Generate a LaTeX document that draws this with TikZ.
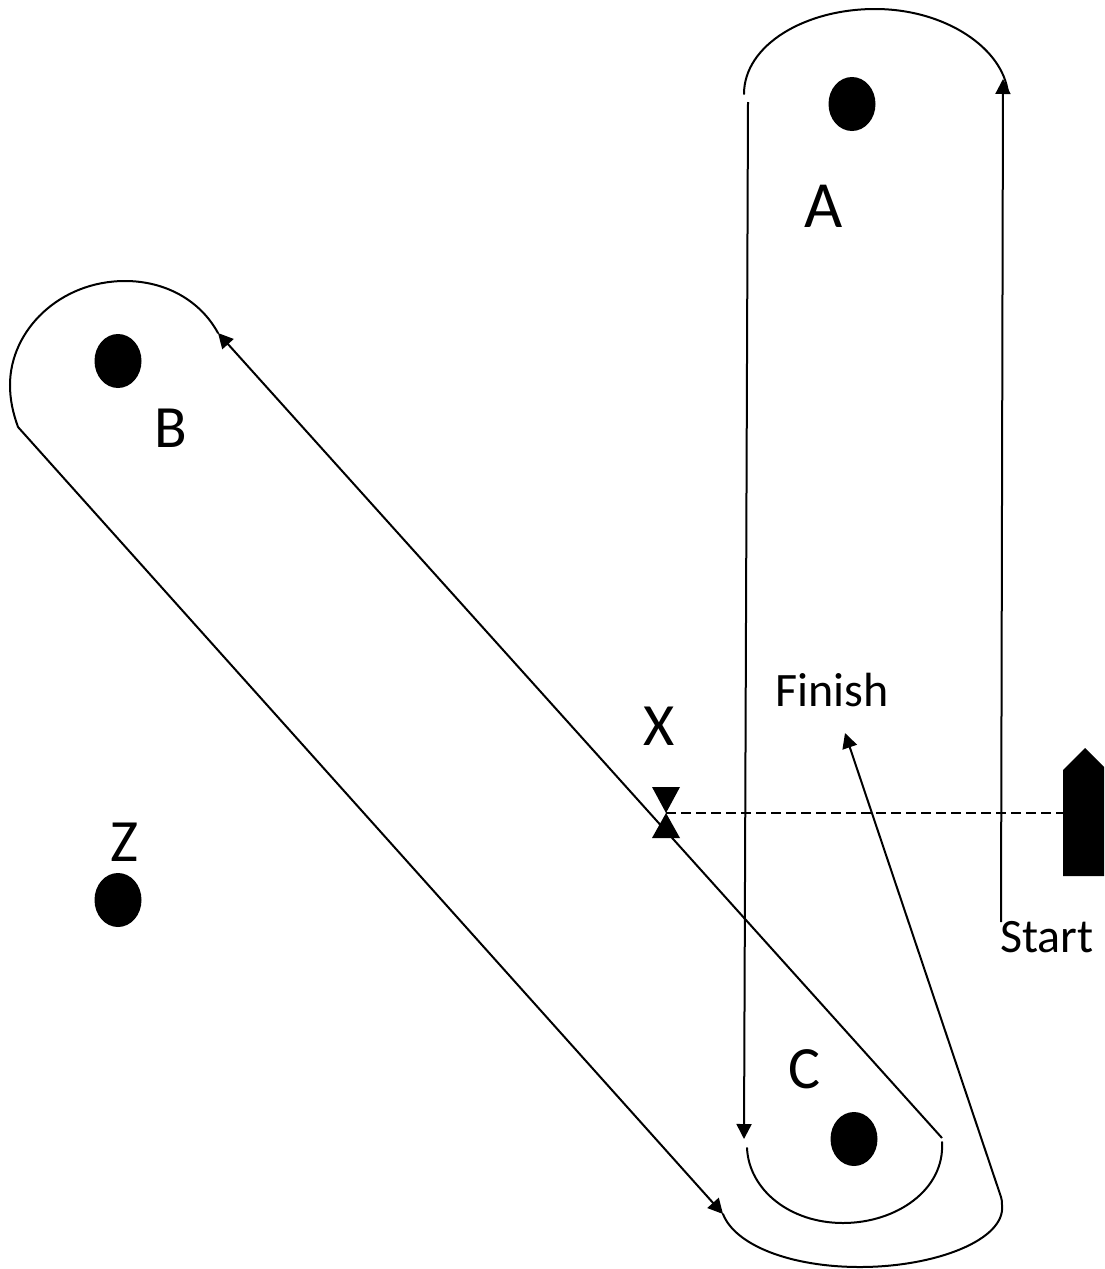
\documentclass[tikz,border=0pt]{standalone}
\usepackage{fontspec}
\setmainfont{Carlito}
\usetikzlibrary{arrows.meta,shapes.geometric}
\tikzset{
  dot/.style={ellipse,fill=black,draw=none,minimum width=47pt,minimum height=54pt,inner sep=0pt},
  biglabel/.style={font=\fontsize{66}{66}\selectfont,inner sep=0pt},
  letterlabel/.style={font=\fontsize{60}{60}\selectfont,inner sep=0pt},
  midlabel/.style={font=\fontsize{48}{48}\selectfont,inner sep=0pt},
  path line/.style={line width=2pt,black},
  arrowed/.style={path line,-{Triangle[length=15pt,width=15pt]}},
  curve/.style={line width=2pt,black,line cap=round},
  sight/.style={line width=2pt,dash pattern=on 10pt off 5pt,black},
  solidmark/.style={fill=black,draw=none}
}
\begin{document}
\begin{tikzpicture}[x=1pt,y=-1pt]
\useasboundingbox (0,0) rectangle (1104,1269);
% dots
\node[dot] (dotA) at (852,104) {};
\node[dot] (dotB) at (118,361) {};
\node[dot] (dotZ) at (118,900) {};
\node[dot] (dotC) at (854,1139) {};
% labels
\node[biglabel] (lblA) at (824,206) {A};
\node[letterlabel] (lblB) at (171,428) {B};
\node[letterlabel] (lblC) at (804,1069) {C};
\node[letterlabel] (lblX) at (659,726) {X};
\node[letterlabel] (lblZ) at (125,842) {Z};
\node[midlabel] (lblFinish) at (832,690) {Finish};
\node[midlabel] (lblStart) at (1047,937) {Start};
% waypoints
\coordinate (startP) at (1001,922);
\coordinate (topR) at (1003,79);
\coordinate (topRb) at (1008,93);
\coordinate (topL) at (744,94);
\coordinate (leftT) at (748,102);
\coordinate (leftB) at (744,1139);
\coordinate (cL) at (747,1148);
\coordinate (cR) at (942,1142);
\coordinate (cRt) at (942,1138);
\coordinate (bR) at (218,333);
\coordinate (bL) at (17,425);
\coordinate (bLb) at (18,427);
\coordinate (brL) at (723,1214);
\coordinate (brRt) at (1001,1197);
\coordinate (fin) at (845,733);
\coordinate (xm) at (666,813);
% ship
\node[inner sep=0pt,minimum size=0pt] (ship) at (1063,813) {};
\fill (1063,770) -- (1085,748) -- (1104,767) -- (1104,876) -- (1063,876) -- cycle;
% sight line
\draw[sight] (xm) -- (ship);
% bowtie
\fill[solidmark] (652,787) -- (680,787) -- (xm) -- cycle;
\fill[solidmark] (652,838) -- (680,838) -- (xm) -- cycle;
% course
\draw[arrowed] (startP) -- (topR);
\draw[curve] (topRb) .. controls (1003,48) and (945,9) .. (875,9)
   .. controls (805,9) and (744,45) .. (topL);
\draw[arrowed] (leftT) -- (leftB);
\draw[curve] (cL) .. controls (749,1190) and (790,1223) .. (843,1223)
   .. controls (896,1223) and (945,1190) .. (cR);
\draw[arrowed] (cRt) -- (bR);
\draw[curve] (bR) .. controls (200,300) and (165,281) .. (125,281)
   .. controls (60,281) and (10,330) .. (10,385)
   .. controls (10,400) and (13,413) .. (bLb);
\draw[arrowed] (bLb) -- (brL);
\draw[curve] (brL) .. controls (735,1245) and (790,1267) .. (860,1267)
   .. controls (935,1267) and (1006,1240) .. (1002,1205) .. controls (1002,1202) and (1002,1200) .. (brRt);
\draw[arrowed] (brRt) -- (fin);
\end{tikzpicture}
\end{document}
